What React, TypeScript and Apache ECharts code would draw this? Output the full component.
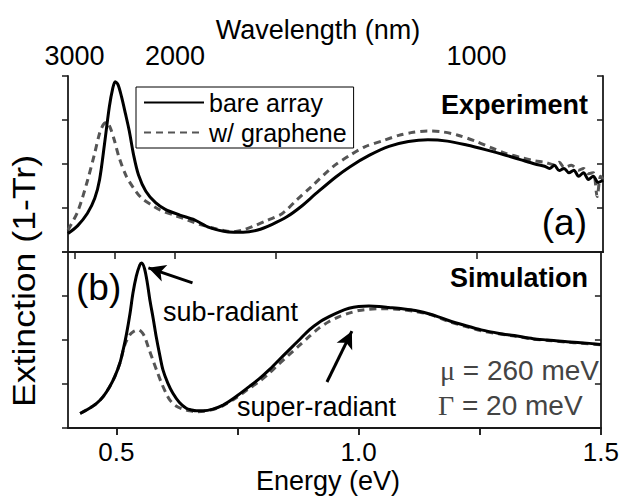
import React, { useEffect, useRef } from "react";
import * as echarts from "echarts";

// ---------- data ----------
const E_TOP_BARE = [0.40, 0.42, 0.44, 0.455, 0.465, 0.475, 0.485, 0.492, 0.497, 0.503, 0.51, 0.518, 0.526, 0.535, 0.545, 0.56, 0.58, 0.60, 0.63, 0.66, 0.69, 0.72, 0.74, 0.76, 0.79, 0.82, 0.85, 0.88, 0.91, 0.95, 0.98, 1.02, 1.06, 1.10, 1.14, 1.18, 1.22, 1.26, 1.30, 1.33, 1.36, 1.38, 1.39, 1.40, 1.41, 1.42, 1.43, 1.44, 1.45, 1.46, 1.47, 1.48, 1.49, 1.50];
const V_TOP_BARE = [0.42, 0.60, 0.88, 1.22, 1.65, 2.45, 3.30, 3.72, 3.87, 3.80, 3.53, 3.15, 2.75, 2.20, 1.75, 1.38, 1.12, 0.97, 0.84, 0.73, 0.56, 0.47, 0.45, 0.45, 0.50, 0.63, 0.80, 1.04, 1.33, 1.70, 1.94, 2.20, 2.40, 2.51, 2.55, 2.52, 2.43, 2.32, 2.20, 2.10, 2.00, 1.95, 1.90, 1.97, 1.85, 1.90, 1.80, 1.86, 1.72, 1.80, 1.65, 1.72, 1.58, 1.63];

const E_TOP_GRAPH = [0.40, 0.42, 0.44, 0.455, 0.465, 0.473, 0.48, 0.487, 0.495, 0.505, 0.52, 0.535, 0.55, 0.57, 0.59, 0.62, 0.645, 0.67, 0.70, 0.72, 0.74, 0.76, 0.78, 0.81, 0.84, 0.87, 0.90, 0.945, 0.98, 1.01, 1.05, 1.08, 1.11, 1.14, 1.17, 1.20, 1.24, 1.27, 1.30, 1.33, 1.36, 1.38, 1.40, 1.41, 1.42, 1.435, 1.45, 1.46, 1.47, 1.48, 1.488, 1.495, 1.50];
const V_TOP_GRAPH = [0.50, 0.92, 1.62, 2.25, 2.70, 2.90, 2.95, 2.82, 2.55, 2.15, 1.72, 1.45, 1.24, 1.08, 0.95, 0.83, 0.73, 0.63, 0.54, 0.49, 0.46, 0.50, 0.58, 0.72, 0.87, 1.18, 1.48, 1.94, 2.20, 2.39, 2.54, 2.65, 2.72, 2.75, 2.73, 2.66, 2.51, 2.37, 2.24, 2.15, 2.07, 2.04, 1.98, 2.04, 1.92, 1.97, 1.86, 1.90, 1.78, 1.80, 1.26, 1.72, 1.65];

const E_SIM_BARE = [0.425, 0.44, 0.459, 0.473, 0.486, 0.497, 0.507, 0.514, 0.521, 0.528, 0.534, 0.541, 0.548, 0.552, 0.558, 0.564, 0.569, 0.576, 0.582, 0.589, 0.596, 0.606, 0.6165, 0.63, 0.644, 0.655, 0.665, 0.68, 0.699, 0.72, 0.745, 0.774, 0.795, 0.815, 0.835, 0.856, 0.877, 0.898, 0.918, 0.939, 0.96, 0.98, 1.0, 1.021, 1.042, 1.062, 1.09, 1.117, 1.15, 1.184, 1.22, 1.253, 1.29, 1.321, 1.36, 1.39, 1.43, 1.458, 1.5];
const V_SIM_BARE = [0.33, 0.42, 0.56, 0.72, 0.94, 1.18, 1.47, 1.78, 2.15, 2.60, 3.06, 3.45, 3.70, 3.75, 3.62, 3.28, 2.91, 2.48, 2.08, 1.68, 1.32, 1.02, 0.79, 0.58, 0.45, 0.41, 0.39, 0.39, 0.43, 0.52, 0.70, 0.94, 1.12, 1.32, 1.54, 1.77, 2.00, 2.23, 2.40, 2.53, 2.64, 2.72, 2.76, 2.77, 2.76, 2.74, 2.71, 2.67, 2.58, 2.45, 2.33, 2.23, 2.15, 2.10, 2.03, 2.00, 1.96, 1.94, 1.90];

const E_SIM_GRAPH = [0.425, 0.44, 0.459, 0.473, 0.486, 0.497, 0.507, 0.517, 0.527, 0.536, 0.545, 0.552, 0.558, 0.566, 0.575, 0.584, 0.593, 0.602, 0.61, 0.623, 0.637, 0.651, 0.665, 0.68, 0.699, 0.72, 0.745, 0.774, 0.795, 0.815, 0.835, 0.856, 0.877, 0.898, 0.918, 0.939, 0.96, 0.98, 1.0, 1.021, 1.042, 1.062, 1.09, 1.117, 1.15, 1.184, 1.22, 1.253, 1.29, 1.321, 1.36, 1.39, 1.43, 1.458, 1.5];
const V_SIM_GRAPH = [0.33, 0.42, 0.56, 0.72, 0.94, 1.18, 1.47, 1.88, 2.11, 2.20, 2.23, 2.18, 2.08, 1.83, 1.55, 1.28, 1.02, 0.80, 0.64, 0.50, 0.43, 0.39, 0.37, 0.38, 0.42, 0.51, 0.67, 0.90, 1.06, 1.24, 1.45, 1.66, 1.87, 2.08, 2.27, 2.42, 2.53, 2.61, 2.67, 2.70, 2.71, 2.71, 2.69, 2.65, 2.57, 2.43, 2.31, 2.21, 2.14, 2.09, 2.02, 1.99, 1.95, 1.93, 1.89];

const ENERGY_TICKS = [0.5, 0.75, 1.0, 1.25, 1.5];
const ENERGY_LABELS = [0.5, 1.0, 1.5];
const WAVELENGTH_TICKS = [3000, 2500, 2000, 1500, 1000];
const WAVELENGTH_LABELS = [3000, 2000, 1000];
const HC = 1239.84; // eV*nm

// arrows: [tail, head] in (energy, extinction) of the simulation panel
const ARROW_SUB = [[0.657, 3.30], [0.566, 3.64]];
const ARROW_SUPER = [[0.9345, 1.045], [0.986, 2.2]];

const SERIES_NAMES = ["bare array", "w/ graphene"];

const FONT = "'Liberation Sans', Arial, Helvetica, sans-serif";
const SERIF = "'Liberation Serif', 'Times New Roman', serif";

const zip = (xs: number[], ys: number[]) => xs.map((x, i) => [x, ys[i]]);

export default function App() {
  const ref = useRef<HTMLDivElement>(null);

  useEffect(() => {
    if (!ref.current) return;
    const chart = echarts.init(ref.current, undefined, { renderer: "svg" });

    const axisLine = { show: true, lineStyle: { color: "#1a1a1a", width: 1.8 } };
    const tickLine = { color: "#1a1a1a", width: 1.5 };
    const grids = [
      { left: 68, top: 76, width: 535, height: 176 },
      { left: 68, top: 252, width: 535, height: 176 },
    ];

    const solidStyle = { color: "#000", width: 3, type: "solid" as const };
    const dashStyle = { color: "#555", width: 3, type: [7, 5] as any };

    const option: any = {
      animation: false,
      backgroundColor: "#fff",
      textStyle: { fontFamily: FONT },
      grid: grids,
      legend: {
        data: SERIES_NAMES,
        orient: "vertical",
        left: 136,
        top: 87,
        padding: [3, 7, 3, 7],
        itemGap: 5,
        itemWidth: 60,
        itemHeight: 14,
        borderColor: "#000",
        borderWidth: 1,
        backgroundColor: "#fff",
        itemStyle: { color: "rgba(0,0,0,0)", opacity: 0, borderWidth: 0 },
        textStyle: { fontSize: 25, color: "#000", fontFamily: FONT },
        selectedMode: false,
      },
      xAxis: [
        {
          gridIndex: 0,
          type: "value",
          position: "top",
          min: 0.4,
          max: 1.5,
          axisLine,
          splitLine: { show: false },
          axisTick: {
            show: true,
            inside: true,
            length: 7,
            lineStyle: tickLine,
            customValues: WAVELENGTH_TICKS.map((w) => HC / w),
          },
          axisLabel: {
            show: true,
            customValues: WAVELENGTH_LABELS.map((w) => HC / w),
            formatter: (v: number) => String(Math.round(HC / v / 100) * 100),
            fontSize: 27,
            color: "#000",
            margin: 7,
            fontFamily: FONT,
          },
        },
        {
          gridIndex: 0,
          type: "value",
          position: "bottom",
          min: 0.4,
          max: 1.5,
          axisLine,
          splitLine: { show: false },
          axisTick: { show: false },
          axisLabel: { show: false },
        },
        {
          gridIndex: 1,
          type: "value",
          position: "top",
          min: 0.4,
          max: 1.5,
          axisLine,
          splitLine: { show: false },
          axisTick: {
            show: true,
            inside: true,
            length: 7,
            lineStyle: tickLine,
            customValues: ENERGY_TICKS,
          },
          axisLabel: { show: false },
        },
        {
          gridIndex: 1,
          type: "value",
          position: "bottom",
          min: 0.4,
          max: 1.5,
          axisLine,
          splitLine: { show: false },
          axisTick: {
            show: true,
            inside: false,
            length: 7,
            lineStyle: tickLine,
            customValues: ENERGY_TICKS,
          },
          axisLabel: {
            show: true,
            customValues: ENERGY_LABELS,
            formatter: (v: number) => v.toFixed(1),
            fontSize: 26,
            color: "#000",
            margin: 11,
            fontFamily: FONT,
          },
        },
      ],
      yAxis: [0, 1].flatMap((g) => [
        {
          gridIndex: g,
          type: "value",
          position: "left",
          min: 0,
          max: 4,
          interval: 1,
          axisLine,
          splitLine: { show: false },
          axisTick: { show: true, inside: false, length: 6, lineStyle: tickLine },
          axisLabel: { show: false },
        },
        {
          gridIndex: g,
          type: "value",
          position: "right",
          min: 0,
          max: 4,
          interval: 1,
          axisLine,
          splitLine: { show: false },
          axisTick: { show: true, inside: true, length: 6, lineStyle: tickLine },
          axisLabel: { show: false },
        },
      ]),
      series: [
        {
          name: SERIES_NAMES[1],
          type: "line",
          xAxisIndex: 0,
          yAxisIndex: 0,
          data: zip(E_TOP_GRAPH, V_TOP_GRAPH),
          showSymbol: false,
          symbol: "none",
          smooth: 0.3,
          lineStyle: dashStyle,
          itemStyle: { color: "#555" },
          z: 2,
        },
        {
          name: SERIES_NAMES[0],
          type: "line",
          xAxisIndex: 0,
          yAxisIndex: 0,
          data: zip(E_TOP_BARE, V_TOP_BARE),
          showSymbol: false,
          symbol: "none",
          smooth: 0.3,
          lineStyle: solidStyle,
          itemStyle: { color: "#000" },
          z: 3,
        },
        {
          name: SERIES_NAMES[1],
          type: "line",
          xAxisIndex: 3,
          yAxisIndex: 2,
          data: zip(E_SIM_GRAPH, V_SIM_GRAPH),
          showSymbol: false,
          symbol: "none",
          smooth: 0.3,
          lineStyle: dashStyle,
          itemStyle: { color: "#555" },
          z: 2,
        },
        {
          name: SERIES_NAMES[0],
          type: "line",
          xAxisIndex: 3,
          yAxisIndex: 2,
          data: zip(E_SIM_BARE, V_SIM_BARE),
          showSymbol: false,
          symbol: "none",
          smooth: 0.3,
          lineStyle: solidStyle,
          itemStyle: { color: "#000" },
          z: 3,
          markLine: {
            silent: true,
            symbol: ["none", "arrow"],
            symbolSize: [13, 17],
            label: { show: false },
            lineStyle: { color: "#000", width: 3, type: "solid" },
            emphasis: { disabled: true },
            data: [
              [{ coord: ARROW_SUB[0] }, { coord: ARROW_SUB[1] }],
              [{ coord: ARROW_SUPER[0] }, { coord: ARROW_SUPER[1] }],
            ],
          },
        },
      ],
      graphic: [
        {
          type: "text",
          x: 318,
          y: 30,
          style: { text: "Wavelength (nm)", fontSize: 27, fontFamily: FONT, fill: "#000", textAlign: "center", textVerticalAlign: "middle" },
        },
        {
          type: "text",
          x: 328,
          y: 481,
          style: { text: "Energy (eV)", fontSize: 27, fontFamily: FONT, fill: "#000", textAlign: "center", textVerticalAlign: "middle" },
        },
        {
          type: "text",
          x: 24,
          y: 281,
          rotation: Math.PI / 2,
          scaleX: 1.15,
          style: { text: "Extinction (1-Tr)", fontSize: 31, fontFamily: FONT, fill: "#000", textAlign: "center", textVerticalAlign: "middle" },
        },
        {
          type: "text",
          x: 588,
          y: 105,
          style: { text: "Experiment", fontSize: 27, fontWeight: "bold", fontFamily: FONT, fill: "#000", textAlign: "right", textVerticalAlign: "middle" },
        },
        {
          type: "text",
          x: 587,
          y: 222,
          style: { text: "(a)", fontSize: 37, fontFamily: FONT, fill: "#000", textAlign: "right", textVerticalAlign: "middle" },
        },
        {
          type: "text",
          x: 76,
          y: 287,
          style: { text: "(b)", fontSize: 37, fontFamily: FONT, fill: "#000", textAlign: "left", textVerticalAlign: "middle" },
        },
        {
          type: "text",
          x: 588,
          y: 278,
          style: { text: "Simulation", fontSize: 27, fontWeight: "bold", fontFamily: FONT, fill: "#000", textAlign: "right", textVerticalAlign: "middle" },
        },
        {
          type: "text",
          x: 163,
          y: 312,
          style: { text: "sub-radiant", fontSize: 27, fontFamily: FONT, fill: "#000", textAlign: "left", textVerticalAlign: "middle" },
        },
        {
          type: "text",
          x: 237,
          y: 407,
          style: { text: "super-radiant", fontSize: 27, fontFamily: FONT, fill: "#000", textAlign: "left", textVerticalAlign: "middle" },
        },
        {
          type: "text",
          x: 599,
          y: 370,
          style: {
            text: "{s|\u03bc} = 260 meV",
            fontSize: 28,
            fontFamily: FONT,
            fill: "#444",
            textAlign: "right",
            textVerticalAlign: "middle",
            rich: { s: { fontFamily: SERIF, fontSize: 28, fill: "#444" } },
          },
        },
        {
          type: "text",
          x: 438,
          y: 405,
          style: {
            text: "{s|\u0393} = 20 meV",
            fontSize: 28,
            fontFamily: FONT,
            fill: "#444",
            textAlign: "left",
            textVerticalAlign: "middle",
            rich: { s: { fontFamily: SERIF, fontSize: 28, fill: "#444" } },
          },
        },
      ],
    };

    chart.setOption(option);
    return () => chart.dispose();
  }, []);

  return <div ref={ref} style={{ position: "absolute", left: 0, top: 0, width: 622, height: 496 }} />;
}
